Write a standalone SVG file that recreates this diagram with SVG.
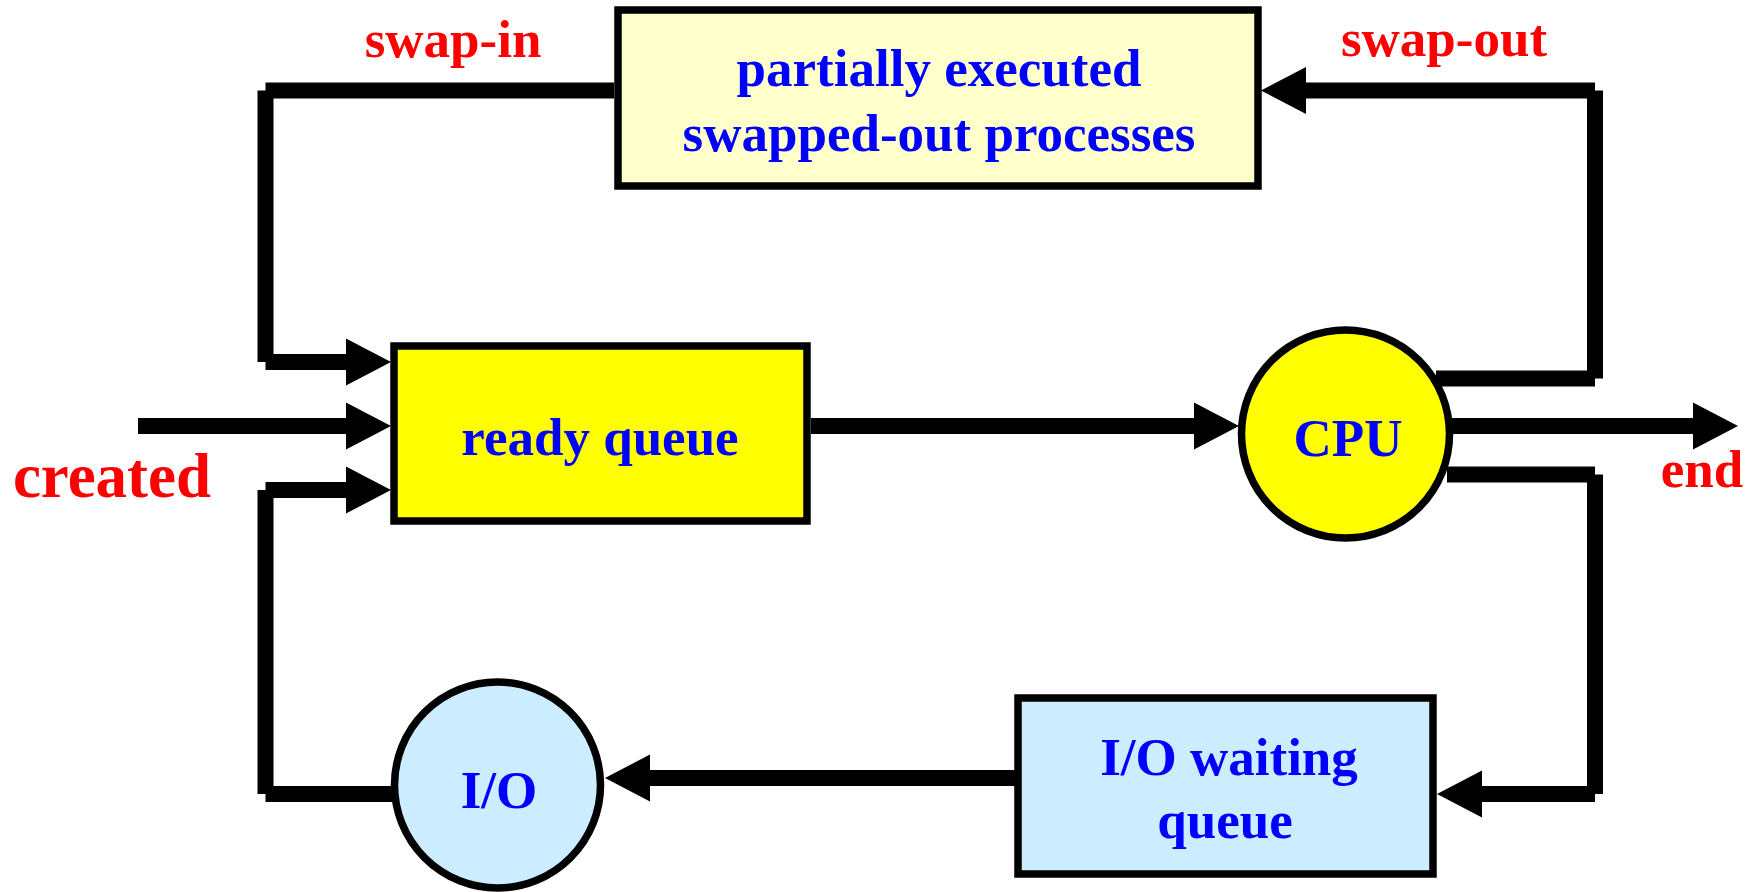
<svg xmlns="http://www.w3.org/2000/svg" width="1753" height="892" viewBox="0 0 1753 892">
  <style>
    .box { stroke: #000; stroke-width: 7.5; }
    .wire { fill: none; stroke: #000; stroke-width: 16; stroke-linecap: butt; }
    .lbl { font-family: "Liberation Serif", "Times New Roman", serif; font-weight: bold; font-size: 53px; fill: #0000FF; text-anchor: middle; }
    .tag { font-family: "Liberation Serif", "Times New Roman", serif; font-weight: bold; font-size: 53px; fill: #FF0000; text-anchor: middle; }
  </style>
  <defs>
    <marker id="head" markerUnits="userSpaceOnUse" markerWidth="46" markerHeight="48" refX="0" refY="23.5" orient="auto" overflow="visible">
      <path d="M0,0 L45,23.5 L0,47 Z" fill="#000"/>
    </marker>
  </defs>
  <rect width="1753" height="892" fill="#FFFFFF"/>

  <!-- state nodes -->
  <g id="swapped-out">
    <rect class="box" x="618" y="10" width="640" height="176" fill="#FFFFCC"/>
    <text class="lbl" x="939" y="86">partially executed</text>
    <text class="lbl" x="939" y="151">swapped-out processes</text>
  </g>
  <g id="ready-queue">
    <rect class="box" x="394" y="346" width="413" height="175" fill="#FFFF00"/>
    <text class="lbl" x="600" y="455">ready queue</text>
  </g>
  <g id="cpu">
    <circle class="box" cx="1345.5" cy="434" r="104" fill="#FFFF00"/>
    <text class="lbl" x="1348" y="456">CPU</text>
  </g>
  <g id="io-waiting-queue">
    <rect class="box" x="1018" y="698" width="415" height="176" fill="#CCECFF"/>
    <text class="lbl" x="1229" y="775">I/O waiting</text>
    <text class="lbl" x="1225" y="838">queue</text>
  </g>
  <g id="io">
    <circle class="box" cx="497.5" cy="785" r="103" fill="#CCECFF"/>
    <text class="lbl" x="499" y="808">I/O</text>
  </g>

  <!-- transitions: each leg is its own butt-capped segment -->
  <g id="connectors">
    <path class="wire" d="M138,426 H346" marker-end="url(#head)"/>
    <path class="wire" d="M614,90.5 H265.5 M265.5,90.5 V362 M265.5,362 H346" marker-end="url(#head)"/>
    <path class="wire" d="M393,794 H265.5 M265.5,794 V490 M265.5,490 H346" marker-end="url(#head)"/>
    <path class="wire" d="M811,426 H1194" marker-end="url(#head)"/>
    <path class="wire" d="M1452,426 H1693" marker-end="url(#head)"/>
    <path class="wire" d="M1436,378.5 H1595 M1595,378.5 V90.5 M1595,90.5 H1306" marker-end="url(#head)"/>
    <path class="wire" d="M1447,474.5 H1595 M1595,474.5 V794 M1595,794 H1482" marker-end="url(#head)"/>
    <path class="wire" d="M1015,778 H650" marker-end="url(#head)"/>
  </g>

  <!-- transition labels -->
  <g id="labels">
    <text class="tag" x="453" y="57">swap-in</text>
    <text class="tag" x="1444" y="56">swap-out</text>
    <text class="tag" x="112" y="497" style="font-size:63px">created</text>
    <text class="tag" x="1702" y="487">end</text>
  </g>
</svg>
